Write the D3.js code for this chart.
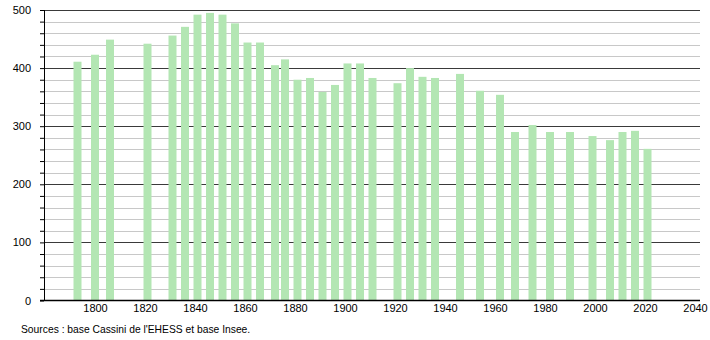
<!DOCTYPE html>
<html>
<head>
<meta charset="utf-8">
<script src="https://cdn.jsdelivr.net/npm/d3@7"></script>
<style>
  body { margin: 0; background: #fff; }
  svg { display: block; font-family: "Liberation Sans", Arial, sans-serif; }
</style>
</head>
<body>
<svg id="chart" width="710" height="340"></svg>
<script>
// census years and population
var years = [1793, 1800, 1806, 1821, 1831, 1836, 1841, 1846, 1851, 1856, 1861, 1866,
  1872, 1876, 1881, 1886, 1891, 1896, 1901, 1906, 1911, 1921, 1926, 1931, 1936,
  1946, 1954, 1962, 1968, 1975, 1982, 1990, 1999, 2006, 2011, 2016, 2021];
var population = [411, 423, 449, 442, 456, 471, 492, 495, 492, 477, 444, 444,
  405, 415, 380, 383, 359, 371, 408, 408, 383, 374, 400, 385, 383,
  390, 361, 354, 290, 302, 290, 290, 283, 276, 290, 292, 261];
var xTicks = [1800, 1820, 1840, 1860, 1880, 1900, 1920, 1940, 1960, 1980, 2000, 2020, 2040];
var yMajor = [0, 100, 200, 300, 400, 500];
var source = "Sources : base Cassini de l'EHESS et base Insee.";

var svg = d3.select("#chart");
var margin = { left: 44, right: 700, top: 10, bottom: 300.5 };

var x = d3.scaleLinear().domain([1779.6, 2042]).range([margin.left, margin.right]);
var y = d3.scaleLinear().domain([0, 500]).range([margin.bottom, margin.top]);

// minor gridlines every 20
var minor = d3.range(20, 500, 20).filter(function(v) { return v % 100 != 0; });
svg.append("g").selectAll("line")
  .data(minor)
  .join("line")
  .attr("x1", margin.left).attr("x2", margin.right)
  .attr("y1", function(d) { return Math.round(y(d)) + 0.5; })
  .attr("y2", function(d) { return Math.round(y(d)) + 0.5; })
  .attr("stroke", "#c8c8c8")
  .attr("stroke-width", 1);

// major gridlines
svg.append("g").selectAll("line")
  .data(yMajor.filter(function(v) { return v > 0; }))
  .join("line")
  .attr("x1", margin.left).attr("x2", margin.right)
  .attr("y1", function(d) { return Math.round(y(d)) + 0.5; })
  .attr("y2", function(d) { return Math.round(y(d)) + 0.5; })
  .attr("stroke", "#3a3a3a")
  .attr("stroke-width", 1);

// bars
svg.append("g").selectAll("rect")
  .data(years)
  .join("rect")
  .attr("x", function(d) { return x(d) - 4; })
  .attr("width", 8)
  .attr("y", function(d, i) { return y(population[i]); })
  .attr("height", function(d, i) { return margin.bottom - y(population[i]); })
  .attr("fill", "#b3e6b3");

// y axis with minor ticks
var yAxis = d3.axisLeft(y)
  .tickValues(d3.range(0, 501, 20))
  .tickSize(4)
  .tickFormat(function(d) { return d % 100 == 0 ? d : ""; })
  .tickPadding(9);
svg.append("g")
  .attr("transform", "translate(" + margin.left + ",0)")
  .call(yAxis)
  .call(function(g) {
    g.select(".domain").remove();
    g.selectAll(".tick line").attr("stroke", "#000");
    g.selectAll(".tick text").attr("font-size", 11).attr("fill", "#000")
      .attr("font-family", "Liberation Sans, Arial, sans-serif");
  });
svg.append("line")
  .attr("x1", margin.left + 0.5).attr("x2", margin.left + 0.5)
  .attr("y1", margin.top).attr("y2", margin.bottom)
  .attr("stroke", "#000");

// x axis
var xAxis = d3.axisBottom(x).tickValues(xTicks).tickSize(0).tickPadding(4)
  .tickFormat(d3.format("d"));
svg.append("g")
  .attr("transform", "translate(0," + margin.bottom + ")")
  .call(xAxis)
  .call(function(g) {
    g.select(".domain").remove();
    g.selectAll(".tick text").attr("font-size", 11).attr("fill", "#000")
      .attr("font-family", "Liberation Sans, Arial, sans-serif");
  });
svg.append("line")
  .attr("x1", margin.left - 4).attr("x2", margin.right)
  .attr("y1", margin.bottom).attr("y2", margin.bottom)
  .attr("stroke", "#000")
  .attr("stroke-width", 1.5);

// source note
svg.append("text")
  .attr("x", 21)
  .attr("y", 333)
  .attr("font-size", 10.3)
  .attr("fill", "#000")
  .text(source);
</script>
</body>
</html>
